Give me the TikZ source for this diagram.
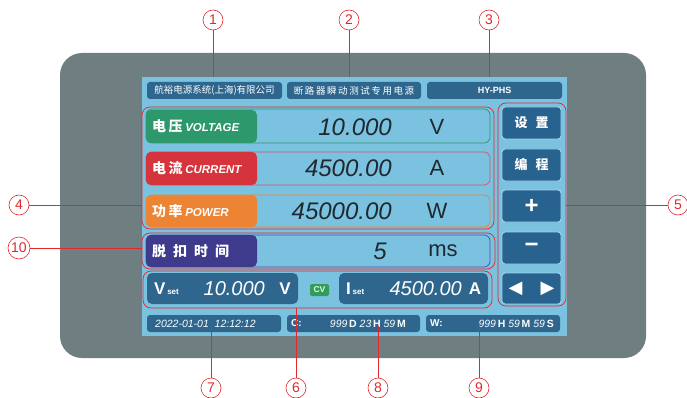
\documentclass[tikz,border=0pt]{standalone}
\usepackage{fontspec}
\setmainfont{Liberation Sans}
\newfontfamily\cjk{Noto Sans CJK SC}
\newfontfamily\sym{DejaVu Sans}
\usetikzlibrary{calc}
\definecolor{panelgray}{RGB}{111,126,128}
\definecolor{screenblue}{RGB}{122,194,224}
\definecolor{barblue}{RGB}{46,102,142}
\definecolor{btnblue}{RGB}{40,98,142}
\definecolor{btnedge}{RGB}{160,214,238}
\definecolor{lblgreen}{RGB}{44,152,108}
\definecolor{lblred}{RGB}{214,52,60}
\definecolor{lblorange}{RGB}{236,132,52}
\definecolor{lblpurple}{RGB}{62,58,140}
\definecolor{lnpurple}{RGB}{80,78,170}
\definecolor{lnpink}{RGB}{212,84,104}
\definecolor{callred}{RGB}{225,40,45}
\definecolor{digit}{RGB}{32,40,48}
\definecolor{cvgreen}{RGB}{52,156,90}
\tikzset{
  box/.style={anchor=north west, inner sep=0, outer sep=0},
  bar/.style={box, rounded corners=3, fill=barblue},
  grp/.style={box, rounded corners=8, draw=callred, line width=0.7},
  rowline/.style={box, rounded corners=6, line width=0.7},
  lbl/.style={box, rounded corners=5},
  btn/.style={box, rounded corners=3, fill=btnblue, draw=btnedge, line width=0.9},
  callout/.style={draw=callred, line width=0.6},
  num/.style={circle, draw=callred, line width=0.6, minimum size=20, inner sep=0, text=callred, font=\fontsize{14}{14}\selectfont},
  bartxt/.style={text=white, inner sep=0, font=\fontsize{9.5}{10}\selectfont},
  lbltxt/.style={text=white, anchor=west, inner sep=0},
  val/.style={text=digit, anchor=east, inner sep=0, font=\fontsize{24}{24}\selectfont\itshape},
  unit/.style={text=digit, inner sep=0, font=\fontsize{22}{22}\selectfont},
  wtxt/.style={text=white, inner sep=0},
}
\begin{document}
\begin{tikzpicture}[x=1pt,y=-1pt]
\useasboundingbox (0,0) rectangle (687,398);
% panel and screen
\node[box, fill=panelgray, rounded corners=22, minimum width=586, minimum height=305] (panel) at (60,53) {};
\node[box, fill=screenblue, minimum width=425, minimum height=259] (screen) at (142,77) {};
% top bars
\node[bar, minimum width=135, minimum height=17] (tb1) at (147,82) {};
\node[bar, minimum width=134, minimum height=17] (tb2) at (287,82) {};
\node[bar, minimum width=135, minimum height=17] (tb3) at (427,82) {};
\node[bartxt] at (tb1.center) {\cjk 航裕电源系统(上海)有限公司};
\node[bartxt] at (tb2.center) {\cjk 断\,路\,器\,瞬\,动\,测\,试\,专\,用\,电\,源};
\node[bartxt, font=\fontsize{9}{10}\selectfont\bfseries] at (tb3.center) {HY-PHS};
% group 4
\node[grp, minimum width=352, minimum height=122] (g4) at (142,107) {};
\node[rowline, draw=lblgreen, minimum width=344, minimum height=34] (r1) at (146,109) {};
\node[lbl, fill=lblgreen, minimum width=111, minimum height=33] (l1) at (146,110) {};
\node[rowline, draw=lnpink, minimum width=344, minimum height=33] (r2) at (146,152) {};
\node[lbl, fill=lblred, minimum width=111, minimum height=33] (l2) at (146,152) {};
\node[rowline, draw=lblorange, minimum width=344, minimum height=32] (r3) at (146,195) {};
\node[lbl, fill=lblorange, minimum width=111, minimum height=32] (l3) at (146,195) {};
\node[lbltxt] at ($(l1.west)+(6,0)$) {{\cjk\bfseries\fontsize{14}{14}\selectfont 电\,压} {\fontsize{11.5}{12}\selectfont\bfseries\itshape VOLTAGE}};
\node[lbltxt] at ($(l2.west)+(6,0)$) {{\cjk\bfseries\fontsize{14}{14}\selectfont 电\,流} {\fontsize{11.5}{12}\selectfont\bfseries\itshape CURRENT}};
\node[lbltxt] at ($(l3.west)+(6,0)$) {{\cjk\bfseries\fontsize{14}{14}\selectfont 功\,率} {\fontsize{11.5}{12}\selectfont\bfseries\itshape POWER}};
\node[val] at (392,127) {10.000};
\node[val] at (392,168) {4500.00};
\node[val] at (392,211) {45000.00};
\node[unit] at (437,127) {V};
\node[unit] at (437,168) {A};
\node[unit] at (437,211) {W};
% group 10
\node[grp, minimum width=353, minimum height=36] (g10) at (142,233) {};
\node[rowline, draw=lnpurple, minimum width=344, minimum height=32] (r4) at (146,235) {};
\node[lbl, fill=lblpurple, minimum width=111, minimum height=32] (l4) at (146,235) {};
\node[lbltxt] at ($(l4.west)+(6,0)$) {\cjk\bfseries\fontsize{14}{14}\selectfont 脱\hspace{7pt}扣\hspace{7pt}时\hspace{7pt}间};
\node[val] at (387,251) {5};
\node[unit] at (443,251) {ms};
% group 6
\node[grp, minimum width=349, minimum height=37] (g6) at (143,271) {};
\node[bar, rounded corners=5, minimum width=151, minimum height=31] (vset) at (147,273) {};
\node[box, rounded corners=2, fill=cvgreen, minimum width=19, minimum height=12] (cv) at (310,284) {};
\node[bar, rounded corners=5, minimum width=149, minimum height=31] (iset) at (339,273) {};
\node[wtxt, text=white!85!green, font=\fontsize{8.5}{9}\selectfont\bfseries] at (cv.center) {CV};
\node[wtxt, anchor=west, font=\fontsize{17}{17}\selectfont\bfseries] (vV) at (154,289) {V};
\node[wtxt, anchor=base west, font=\fontsize{8}{8}\selectfont\bfseries] at (vV.base east) {\,set};
\node[wtxt, anchor=east, font=\fontsize{20}{20}\selectfont\itshape] at (265,289) {10.000};
\node[wtxt, font=\fontsize{17}{17}\selectfont\bfseries] at (285,289) {V};
\node[wtxt, anchor=west, font=\fontsize{17}{17}\selectfont\bfseries] (iI) at (346,289) {I};
\node[wtxt, anchor=base west, font=\fontsize{8}{8}\selectfont\bfseries] at (iI.base east) {\,set};
\node[wtxt, anchor=east, font=\fontsize{20}{20}\selectfont\itshape] at (462,289) {4500.00};
\node[wtxt, font=\fontsize{17}{17}\selectfont\bfseries] at (475,289) {A};
% bottom bars
\node[bar, minimum width=134, minimum height=17] (bb1) at (147,315) {};
\node[bar, minimum width=133, minimum height=17] (bb2) at (287,315) {};
\node[bar, minimum width=134, minimum height=17] (bb3) at (426,315) {};
\node[wtxt, anchor=west, font=\fontsize{10.5}{11}\selectfont\itshape] at (155,323.5) {2022-01-01\ \ 12:12:12};
\node[wtxt, anchor=west, font=\fontsize{10}{11}\selectfont\bfseries] at (291,323.5) {C:};
\node[wtxt, anchor=east, font=\fontsize{10.5}{11}\selectfont] at (406,323.5) {\itshape 999\,\bfseries\upshape D\ \itshape\mdseries 23\,\bfseries\upshape H\ \itshape\mdseries 59\,\bfseries\upshape M};
\node[wtxt, anchor=west, font=\fontsize{10}{11}\selectfont\bfseries] at (430,323.5) {W:};
\node[wtxt, anchor=east, font=\fontsize{10.5}{11}\selectfont] at (554,323.5) {\itshape 999\,\bfseries\upshape H\ \itshape\mdseries 59\,\bfseries\upshape M\ \itshape\mdseries 59\,\bfseries\upshape S};
% buttons
\node[grp, minimum width=68, minimum height=203] (g5) at (498,103) {};
\node[btn, minimum width=59, minimum height=32] (b1) at (502,107) {};
\node[btn, minimum width=59, minimum height=32] (b2) at (502,149) {};
\node[btn, minimum width=59, minimum height=32] (b3) at (502,190) {};
\node[btn, minimum width=59, minimum height=32] (b4) at (502,232) {};
\node[btn, minimum width=59, minimum height=31] (b5) at (502,273) {};
\node[wtxt, font=\cjk\bfseries\fontsize{13}{13}\selectfont] at (b1.center) {设\hspace{8pt}置};
\node[wtxt, font=\cjk\bfseries\fontsize{13}{13}\selectfont] at (b2.center) {编\hspace{8pt}程};
\node[wtxt, font=\fontsize{24}{24}\selectfont\bfseries] at (b3.center) {+};
\node[wtxt, font=\fontsize{24}{24}\selectfont\bfseries] at (b4.center) {−};
\node[wtxt, font=\sym\fontsize{18}{18}\selectfont] at (b5.center) {◀\hspace{18pt}▶};
% callout circles
\node[num] (n1) at (213,20) {1};
\node[num] (n2) at (349,20) {2};
\node[num] (n3) at (489,20) {3};
\node[num] (n4) at (19,205) {4};
\node[num, minimum size=22] (n10) at (19,248) {10};
\node[num] (n5) at (678,205) {5};
\node[num] (n7) at (211,388) {7};
\node[num] (n6) at (296,388) {6};
\node[num] (n8) at (378,388) {8};
\node[num] (n9) at (479,388) {9};
% callout lines
\draw[callout] (n1.south) -- (n1.south |- screen.north);
\draw[callout] (n2.south) -- (n2.south |- screen.north);
\draw[callout] (n3.south) -- (n3.south |- screen.north);
\draw[callout] (n4.east) -- (n4.east -| g4.west);
\draw[callout] (n10.east) -- (n10.east -| g10.west);
\draw[callout] (n5.west) -- (n5.west -| g5.east);
\draw[callout] (n7.north) -- ($(n7.north |- bb1.center)+(0,2)$);
\draw[callout] (n6.north) -- (n6.north |- g6.south);
\draw[callout] (n8.north) -- ($(n8.north |- bb2.center)+(0,2)$);
\draw[callout] (n9.north) -- ($(n9.north |- bb3.center)+(0,2)$);
\end{tikzpicture}
\end{document}
